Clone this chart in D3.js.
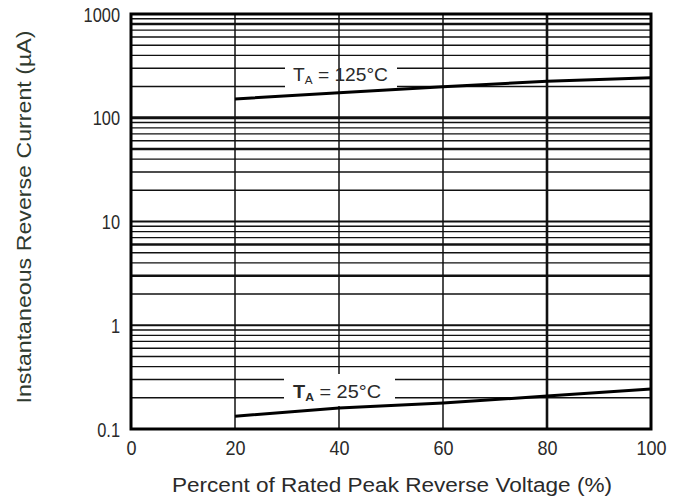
<!DOCTYPE html>
<html>
<head>
<meta charset="utf-8">
<script src="https://cdn.jsdelivr.net/npm/d3@7"></script>
<style>
  html, body { margin: 0; padding: 0; background: #fff; }
  svg { display: block; }
  text { font-family: "Liberation Sans", Arial, sans-serif; fill: #2a2a2a; }
</style>
</head>
<body>
<svg id="chart" width="685" height="504"></svg>
<script>
// ---- data ----
const xTicks = [0, 20, 40, 60, 80, 100];
const xTickLabels = ["0", "20", "40", "60", "80", "100"];
const yTicks = [0.1, 1, 10, 100, 1000];
const yTickLabels = ["0.1", "1", "10", "100", "1000"];
const voltage = [20, 40, 60, 80, 100];
const current125 = [152, 174, 199, 225, 243];
const current25 = [0.133, 0.159, 0.178, 0.208, 0.243];
const xTitle = "Percent of Rated Peak Reverse Voltage (%)";
const yTitle = "Instantaneous Reverse Current (\u00B5A)";

// ---- layout ----
const L = 131, R = 651, T = 14, B = 429;
const svg = d3.select("#chart");
const x = d3.scaleLinear().domain([0, 100]).range([L, R]);
const y = d3.scaleLog().domain([0.1, 1000]).range([B, T]);

// horizontal grid (log minor lines)
const gridVals = y.ticks().filter(v => v > 0.1 && v < 1000);
const heavy = [3, 6, 50, 800];
const lw = v => {
  if (v === 100) return 3;
  if (yTicks.includes(v)) return 2;
  if (heavy.some(h => Math.abs(h - v) < 1e-9)) return 2.4;
  return 1.3;
};
svg.append("g").selectAll("line").data(gridVals).join("line")
  .attr("x1", L).attr("x2", R)
  .attr("y1", d => y(d)).attr("y2", d => y(d))
  .attr("stroke", "#111").attr("stroke-width", d => lw(d));

// label mask (125 C) hides horizontal lines only
const box125 = svg.append("rect").attr("fill", "#fff");
// vertical grid
svg.append("g").selectAll("line").data([20, 40, 60, 80]).join("line")
  .attr("x1", d => x(d)).attr("x2", d => x(d))
  .attr("y1", T).attr("y2", B)
  .attr("stroke", "#111").attr("stroke-width", d => d === 80 ? 2.6 : 1.5);
// label mask (25 C)
const box25 = svg.append("rect").attr("fill", "#fff");

// curves
const line = d3.line().x(d => x(d[0])).y(d => y(d[1]));
svg.append("path").datum(voltage.map((v, i) => [v, current125[i]]))
  .attr("d", line).attr("fill", "none").attr("stroke", "#000").attr("stroke-width", 3);
svg.append("path").datum(voltage.map((v, i) => [v, current25[i]]))
  .attr("d", line).attr("fill", "none").attr("stroke", "#000").attr("stroke-width", 3);

// curve labels
function curveLabel(xv, yv, temp, bold, width) {
  const t = svg.append("text").attr("x", xv).attr("y", yv)
    .style("font-size", "18px").style("font-weight", bold ? "bold" : "normal");
  t.append("tspan").text("T");
  t.append("tspan").attr("dy", 3).style("font-size", "11px").text("A");
  t.append("tspan").attr("dy", -3).style("font-weight", "normal").text(" = " + temp + "\u00B0C");
  t.attr("textLength", width).attr("lengthAdjust", "spacingAndGlyphs");
  return t;
}
box125.attr("x", 285).attr("y", 62).attr("width", 112).attr("height", 28);
curveLabel(293, 81, "125", false, 95);
box25.attr("x", 284).attr("y", 374).attr("width", 111).attr("height", 32);
curveLabel(293, 398, "25", true, 88);

// axes
const yAxis = d3.axisLeft(y).tickValues(yTicks)
  .tickFormat((d, i) => yTickLabels[i]).tickSize(0);
const gy = svg.append("g").attr("transform", `translate(${L},0)`).call(yAxis);
gy.select(".domain").remove();
gy.selectAll("text").attr("x", 0).attr("dy", "0.35em")
  .attr("transform", "translate(-11,0) scale(0.82,1)")
  .style("font-size", "20px").style("font-family", "Liberation Sans, Arial, sans-serif")
  .attr("fill", "#2a2a2a");

const xAxis = d3.axisBottom(x).tickValues(xTicks)
  .tickFormat((d, i) => xTickLabels[i]).tickSize(0);
const gx = svg.append("g").attr("transform", `translate(0,${B})`).call(xAxis);
gx.select(".domain").remove();
gx.selectAll("text").attr("y", 0).attr("dy", 0)
  .attr("transform", "translate(0,26) scale(0.9,1)")
  .style("font-size", "20px").style("font-family", "Liberation Sans, Arial, sans-serif")
  .attr("fill", "#2a2a2a");

// border
svg.append("rect").attr("x", L).attr("y", T).attr("width", R - L).attr("height", B - T)
  .attr("fill", "none").attr("stroke", "#000").attr("stroke-width", 3);

// titles
svg.append("text").attr("x", (L + R) / 2 + 1).attr("y", 492)
  .attr("text-anchor", "middle").style("font-size", "20px")
  .attr("textLength", 440).attr("lengthAdjust", "spacingAndGlyphs")
  .text(xTitle);
svg.append("text").attr("transform", "translate(31,217) rotate(-90)")
  .attr("text-anchor", "middle").style("font-size", "20px")
  .attr("fill", "#2f3a2f").style("fill", "#2f3a2f")
  .attr("textLength", 373).attr("lengthAdjust", "spacingAndGlyphs")
  .text(yTitle);
</script>
</body>
</html>
